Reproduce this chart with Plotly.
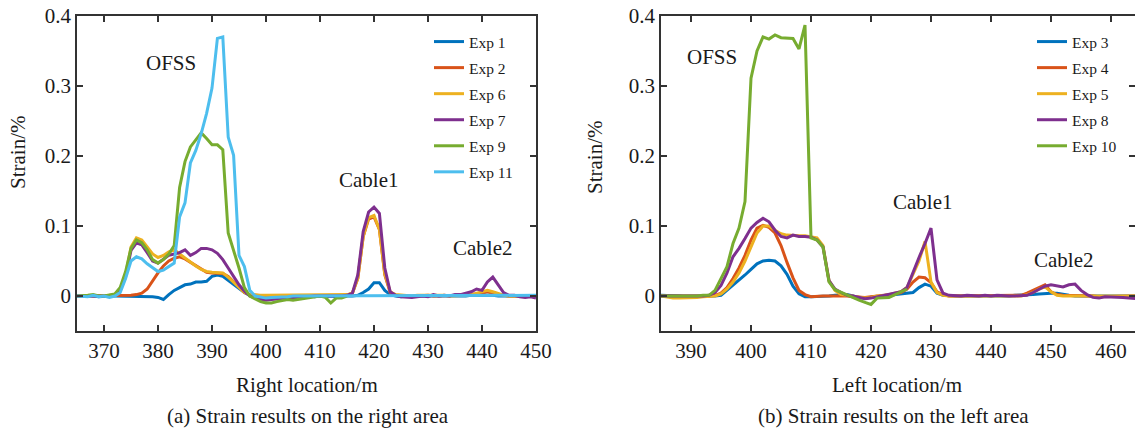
import plotly.graph_objects as go

# ---------------- data: right area (panel a) ----------------
right_loc = list(range(365, 451))
exp1 = [0.000, 0.000, 0.001, 0.000, -0.001, 0.000, 0.000, 0.000, 0.000, 0.000,
        0.000, 0.000, -0.001, -0.001, -0.001, -0.002, -0.005, 0.002, 0.008, 0.012,
        0.016, 0.017, 0.020, 0.020, 0.021, 0.028, 0.030, 0.028, 0.022, 0.016,
        0.010, 0.005, 0.001, -0.002, -0.004, -0.004, -0.003, -0.002, -0.002, -0.001,
        -0.002, -0.001, 0.000, 0.000, -0.001, 0.000, -0.001, 0.000, -0.001, 0.000,
        0.000, 0.000, 0.001, 0.005, 0.010, 0.019, 0.019, 0.008, 0.002, 0.000,
        -0.001, 0.000, -0.001, 0.000, 0.000, -0.001, 0.000, 0.000, 0.000, -0.001,
        0.000, 0.000, 0.000, 0.001, 0.001, 0.002, 0.002, 0.001, 0.000, 0.000,
        0.000, 0.001, 0.001, 0.000, 0.000, 0.000]
exp2 = [0.000, 0.000, 0.001, 0.000, 0.000, 0.000, 0.000, 0.000, 0.000, 0.001,
        0.001, 0.002, 0.004, 0.010, 0.022, 0.033, 0.043, 0.050, 0.054, 0.056,
        0.053, 0.048, 0.043, 0.038, 0.034, 0.033, 0.033, 0.032, 0.028, 0.020,
        0.012, 0.005, 0.002, 0.001, 0.001, 0.000, -0.001, 0.000, 0.000, 0.001,
        0.001, 0.001, 0.000, 0.000, 0.001, 0.001, 0.000, 0.000, 0.001, 0.001,
        0.001, 0.004, 0.025, 0.085, 0.110, 0.113, 0.095, 0.030, 0.005, 0.001,
        0.000, 0.000, -0.001, 0.000, 0.001, 0.001, 0.000, 0.000, 0.001, 0.000,
        0.000, 0.001, 0.002, 0.002, 0.003, 0.004, 0.006, 0.004, 0.002, 0.001,
        0.000, 0.000, 0.000, 0.001, 0.000, 0.000]
exp6 = [0.000, 0.000, 0.001, 0.000, 0.000, 0.000, 0.001, 0.002, 0.008, 0.030,
        0.070, 0.083, 0.080, 0.070, 0.060, 0.055, 0.058, 0.063, 0.066, 0.060,
        0.054, 0.048, 0.043, 0.038, 0.035, 0.034, 0.034, 0.033, 0.027, 0.020,
        0.012, 0.005, 0.002, 0.001, 0.001, 0.001, 0.001, 0.001, 0.002, 0.002,
        0.001, 0.001, 0.001, 0.002, 0.002, 0.001, 0.001, 0.001, 0.002, 0.002,
        0.002, 0.004, 0.025, 0.085, 0.112, 0.115, 0.095, 0.032, 0.006, 0.002,
        0.001, 0.000, 0.000, 0.001, 0.001, 0.002, 0.001, 0.001, 0.001, 0.000,
        0.000, 0.001, 0.001, 0.002, 0.004, 0.006, 0.008, 0.006, 0.003, 0.001,
        0.000, 0.000, 0.001, 0.001, 0.000, 0.000]
exp7 = [0.000, 0.000, 0.001, 0.000, 0.000, 0.000, 0.000, 0.002, 0.008, 0.028,
        0.065, 0.076, 0.073, 0.062, 0.050, 0.047, 0.052, 0.058, 0.060, 0.062,
        0.066, 0.058, 0.062, 0.068, 0.068, 0.066, 0.061, 0.052, 0.040, 0.027,
        0.016, 0.007, 0.000, -0.003, -0.005, -0.006, -0.005, -0.004, -0.003, -0.003,
        -0.003, -0.002, -0.001, -0.001, 0.000, 0.000, 0.000, -0.001, 0.000, 0.000,
        0.001, 0.004, 0.030, 0.092, 0.120, 0.127, 0.118, 0.040, 0.006, 0.001,
        -0.001, -0.002, -0.002, -0.001, 0.000, -0.001, 0.002, 0.000, 0.001, 0.000,
        0.002, 0.002, 0.004, 0.006, 0.010, 0.008, 0.020, 0.027, 0.016, 0.005,
        0.001, 0.001, -0.001, -0.002, -0.001, -0.003]
exp9_loc = list(range(365, 416))
exp9 = [0.000, 0.000, 0.001, 0.002, 0.000, 0.000, 0.001, 0.003, 0.012, 0.035,
        0.068, 0.080, 0.076, 0.066, 0.052, 0.047, 0.052, 0.060, 0.072, 0.155,
        0.192, 0.213, 0.223, 0.233, 0.225, 0.216, 0.216, 0.209, 0.090, 0.066,
        0.040, 0.012, 0.000, -0.004, -0.008, -0.010, -0.010, -0.008, -0.006, -0.005,
        -0.006, -0.005, -0.004, -0.003, -0.002, 0.000, -0.002, -0.010, -0.003, -0.003,
        0.000]
exp11 = [0.000, 0.000, -0.001, 0.001, -0.001, 0.000, -0.002, 0.000, 0.005, 0.025,
         0.050, 0.056, 0.053, 0.046, 0.040, 0.035, 0.037, 0.042, 0.047, 0.113,
         0.133, 0.190, 0.208, 0.232, 0.261, 0.297, 0.368, 0.370, 0.227, 0.201,
         0.058, 0.042, 0.008, 0.000, -0.002, -0.003, -0.002, -0.002, -0.001, -0.001,
         0.000, 0.000, 0.001, 0.000, 0.000, 0.000, 0.001, 0.000, 0.000, 0.000,
         0.000, 0.001, 0.000, 0.000, 0.000, 0.000, 0.000, 0.000, 0.000, 0.000,
         0.000, 0.000, 0.001, 0.000, 0.000, 0.000, 0.000, 0.000, 0.000, 0.000,
         0.000, 0.000, 0.000, 0.000, 0.000, 0.000, 0.000, 0.000, 0.000, 0.000,
         0.000, 0.000, 0.000, 0.001, 0.001, 0.001]

# ---------------- data: left area (panel b) ----------------
left_loc = list(range(385, 466))
exp3 = [0.001, 0.001, 0.000, 0.000, -0.001, -0.001, 0.000, 0.000, 0.000, 0.000,
        0.001, 0.008, 0.016, 0.022, 0.030, 0.038, 0.046, 0.050, 0.051, 0.050,
        0.043, 0.031, 0.014, 0.003, -0.001, -0.001, -0.001, 0.000, 0.000, 0.001,
        0.001, 0.002, 0.000, -0.003, -0.003, -0.002, 0.000, 0.000, 0.001, 0.002,
        0.003, 0.004, 0.005, 0.012, 0.017, 0.014, 0.004, 0.001, 0.000, 0.000,
        0.000, 0.000, 0.000, -0.001, 0.000, 0.000, 0.000, 0.000, 0.000, 0.001,
        0.001, 0.002, 0.002, 0.003, 0.004, 0.004, 0.004, 0.002, 0.001, 0.000,
        0.000, 0.000, 0.000, -0.001, 0.000, 0.000, 0.000, 0.000, 0.000, 0.000,
        0.000]
exp4 = [0.000, 0.000, -0.001, -0.001, -0.001, 0.000, 0.000, 0.000, 0.000, 0.001,
        0.004, 0.012, 0.025, 0.040, 0.058, 0.080, 0.097, 0.101, 0.098, 0.090,
        0.072, 0.048, 0.026, 0.008, 0.002, -0.001, 0.000, 0.000, 0.000, 0.000,
        0.001, 0.000, -0.001, -0.002, -0.002, -0.001, 0.000, 0.000, 0.001, 0.003,
        0.005, 0.010, 0.020, 0.027, 0.026, 0.019, 0.006, 0.002, 0.000, 0.000,
        0.000, 0.000, 0.000, 0.000, 0.000, 0.000, 0.000, 0.000, 0.000, 0.000,
        0.001, 0.004, 0.008, 0.012, 0.016, 0.006, 0.002, 0.001, 0.001, 0.001,
        0.000, 0.000, 0.000, -0.001, -0.001, 0.000, 0.000, 0.000, 0.000, 0.000,
        0.000]
exp5 = [0.000, -0.002, -0.003, -0.003, -0.003, -0.002, -0.002, -0.001, 0.000, 0.000,
        0.003, 0.010, 0.020, 0.033, 0.050, 0.070, 0.090, 0.100, 0.100, 0.094,
        0.089, 0.087, 0.086, 0.086, 0.086, 0.085, 0.083, 0.072, 0.022, 0.008,
        0.002, 0.001, 0.000, -0.002, -0.003, -0.002, 0.000, 0.000, 0.002, 0.005,
        0.006, 0.012, 0.030, 0.050, 0.078, 0.020, 0.005, 0.001, 0.000, 0.000,
        0.000, 0.000, 0.000, 0.000, 0.000, 0.000, 0.000, 0.000, 0.000, 0.000,
        0.000, 0.002, 0.005, 0.010, 0.013, 0.006, 0.001, 0.000, 0.000, 0.000,
        0.000, 0.000, 0.000, 0.000, 0.000, 0.000, 0.000, 0.000, 0.000, 0.000,
        0.000]
exp8 = [0.000, 0.000, 0.000, 0.000, -0.001, -0.001, 0.000, 0.000, 0.001, 0.005,
        0.015, 0.033, 0.056, 0.068, 0.082, 0.097, 0.105, 0.111, 0.106, 0.094,
        0.085, 0.083, 0.087, 0.085, 0.085, 0.084, 0.080, 0.070, 0.022, 0.010,
        0.005, 0.001, 0.000, -0.002, -0.004, -0.003, -0.001, 0.000, 0.002, 0.004,
        0.006, 0.012, 0.035, 0.055, 0.075, 0.097, 0.023, 0.004, 0.001, 0.000,
        0.000, 0.001, 0.000, 0.000, 0.001, 0.000, 0.001, 0.000, 0.000, 0.000,
        0.000, 0.001, 0.005, 0.010, 0.014, 0.016, 0.014, 0.013, 0.016, 0.017,
        0.008, 0.002, -0.002, -0.003, -0.001, -0.001, -0.001, -0.002, -0.003, -0.004,
        -0.004]
exp10_loc = list(range(385, 427))
exp10 = [0.000, 0.000, 0.000, 0.000, -0.001, 0.000, 0.000, 0.001, 0.001, 0.008,
         0.025, 0.042, 0.075, 0.097, 0.135, 0.311, 0.350, 0.370, 0.367, 0.373,
         0.369, 0.369, 0.368, 0.353, 0.387, 0.083, 0.080, 0.070, 0.020, 0.009,
         0.005, 0.002, -0.002, -0.006, -0.009, -0.012, -0.003, -0.003, -0.002, 0.002,
         0.006, 0.010]

# ---------------- axes labels / ticks ----------------
y_ticks = [0, 0.1, 0.2, 0.3, 0.4]
y_ticktext = ["0", "0.1", "0.2", "0.3", "0.4"]
right_xticks = [370, 380, 390, 400, 410, 420, 430, 440, 450]
left_xticks = [390, 400, 410, 420, 430, 440, 450, 460]

C_BLUE = "#0072BD"
C_ORANGE = "#D95319"
C_YELLOW = "#EDB120"
C_PURPLE = "#7E2F8E"
C_GREEN = "#77AC30"
C_CYAN = "#4DBEEE"

FONT = "'Liberation Serif', 'Times New Roman', Times, 'DejaVu Serif', serif"
LW = 3

fig = go.Figure()

panel_a = [("Exp 1", right_loc, exp1, C_BLUE), ("Exp 2", right_loc, exp2, C_ORANGE),
           ("Exp 6", right_loc, exp6, C_YELLOW), ("Exp 7", right_loc, exp7, C_PURPLE),
           ("Exp 9", exp9_loc, exp9, C_GREEN), ("Exp 11", right_loc, exp11, C_CYAN)]
for name, xs, ys, col in panel_a:
    fig.add_trace(go.Scatter(x=xs, y=ys, mode="lines", name=name,
                             line=dict(color=col, width=LW),
                             xaxis="x", yaxis="y", legend="legend",
                             legendgroup="a_" + name))

panel_b = [("Exp 3", left_loc, exp3, C_BLUE), ("Exp 4", left_loc, exp4, C_ORANGE),
           ("Exp 5", left_loc, exp5, C_YELLOW), ("Exp 8", left_loc, exp8, C_PURPLE),
           ("Exp 10", exp10_loc, exp10, C_GREEN)]
for name, xs, ys, col in panel_b:
    fig.add_trace(go.Scatter(x=xs, y=ys, mode="lines", name=name,
                             line=dict(color=col, width=LW),
                             xaxis="x2", yaxis="y2", legend="legend2",
                             legendgroup="b_" + name))

W, H = 1135, 432
ax_top = 16
ax_bot = 331
ydom = [1 - ax_bot / H, 1 - ax_top / H]
a_left, a_right = 77, 536
b_left, b_right = 661, 1135

axis_common = dict(showline=True, linecolor="#333333", linewidth=1.5, mirror="ticks",
                   ticks="inside", ticklen=6, tickwidth=1.5, tickcolor="#333333",
                   showgrid=False, zeroline=False, automargin=False,
                   tickfont=dict(family=FONT, size=21, color="#1a1a1a"))

fig.update_layout(
    width=W, height=H,
    margin=dict(l=0, r=0, t=0, b=0, autoexpand=False),
    paper_bgcolor="white", plot_bgcolor="white",
    font=dict(family=FONT, size=21, color="#1a1a1a"),
    xaxis=dict(domain=[a_left / W, a_right / W], range=[365, 450],
               tickvals=right_xticks, anchor="y", **axis_common),
    yaxis=dict(domain=ydom, range=[-0.05, 0.4], tickvals=y_ticks, ticktext=y_ticktext,
               anchor="x", **axis_common),
    xaxis2=dict(domain=[b_left / W, b_right / W], range=[385, 464],
                tickvals=left_xticks, anchor="y2", **axis_common),
    yaxis2=dict(domain=ydom, range=[-0.05, 0.4], tickvals=y_ticks, ticktext=y_ticktext,
                anchor="x2", **axis_common),
    legend=dict(x=429 / W, y=1 - 25 / H, xanchor="left", yanchor="top",
                bgcolor="rgba(0,0,0,0)", tracegroupgap=2.9,
                font=dict(family=FONT, size=15.5, color="#1a1a1a")),
    legend2=dict(x=1032 / W, y=1 - 25 / H, xanchor="left", yanchor="top",
                 bgcolor="rgba(0,0,0,0)", tracegroupgap=2.9,
                 font=dict(family=FONT, size=15.5, color="#1a1a1a")),
    showlegend=True,
)

txt = dict(family=FONT, size=21, color="#1a1a1a")
annos = [
    dict(text="OFSS", x=382.4, y=0.333, xref="x", yref="y"),
    dict(text="Cable1", x=419.0, y=0.166, xref="x", yref="y"),
    dict(text="Cable2", x=440.0, y=0.069, xref="x", yref="y"),
    dict(text="OFSS", x=393.5, y=0.341, xref="x2", yref="y2"),
    dict(text="Cable1", x=428.5, y=0.134, xref="x2", yref="y2"),
    dict(text="Cable2", x=452.0, y=0.051, xref="x2", yref="y2"),
    dict(text="Right location/m", x=307 / W, y=1 - 385 / H, xref="paper", yref="paper"),
    dict(text="Left location/m", x=897 / W, y=1 - 385 / H, xref="paper", yref="paper"),
    dict(text="(a) Strain results on the right area", x=308 / W, y=1 - 416 / H,
         xref="paper", yref="paper"),
    dict(text="(b) Strain results on the left area", x=893 / W, y=1 - 416 / H,
         xref="paper", yref="paper"),
    dict(text="Strain/%", x=18 / W, y=1 - 152 / H, xref="paper", yref="paper", textangle=-90),
    dict(text="Strain/%", x=595 / W, y=1 - 157 / H, xref="paper", yref="paper", textangle=-90),
]
for a in annos:
    fig.add_annotation(showarrow=False, font=txt, xanchor="center", yanchor="middle", **a)

fig.write_html("out.html")
